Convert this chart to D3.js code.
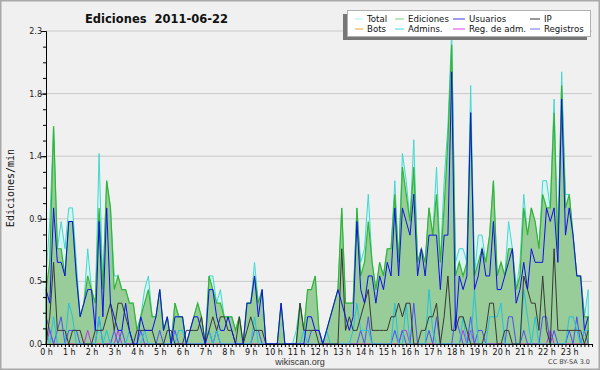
<!DOCTYPE html>
<html>
<head>
<meta charset="utf-8">
<script src="https://cdn.jsdelivr.net/npm/d3@7"></script>
<style>
  body { margin: 0; background: #f0f0f0; }
  text { font-family: "DejaVu Sans", sans-serif; }
</style>
</head>
<body>
<div id="chart"></div>
<script>
// 10-minute slots, values in edits/min
const hourLabels = ["0 h","1 h","2 h","3 h","4 h","5 h","6 h","7 h","8 h","9 h","10 h","11 h",
  "12 h","13 h","14 h","15 h","16 h","17 h","18 h","19 h","20 h","21 h","22 h","23 h"];
const yTicks = [0, 0.46, 0.92, 1.38, 1.84, 2.3];

const total = [
  0.5,0.9,1.6,0.7,0.9,0.7, 1.0,1.0,0.6,0.2,0.3,0.7, 0.4,0.3,1.4,0.4,1.2,1.0,
  0.5,0.5,0.4,0.4,0.3,0.3, 0.1,0.2,0.4,0.5,0.2,0.2, 0.4,0.1,0.2,0.0,0.3,0.2,
  0.2,0.0,0.1,0.2,0.3,0.2, 0.0,0.5,0.5,0.3,0.4,0.2, 0.2,0.2,0.1,0.2,0.0,0.3,
  0.3,0.6,0.3,0.4,0.0,0.0, 0.0,0.0,0.3,0.0,0.0,0.0, 0.1,0.3,0.1,0.4,0.4,0.5,
  0.1,0.0,0.1,0.2,0.3,0.4, 1.0,0.3,0.3,0.3,1.0,0.6, 0.7,1.1,0.6,0.4,0.6,0.5,
  0.7,0.7,1.2,0.6,1.4,1.2, 0.9,1.5,0.6,0.7,0.6,1.0, 0.8,1.3,0.6,1.2,1.6,2.3,
  0.6,0.7,0.7,0.6,1.9,0.5, 0.8,0.8,0.6,0.8,1.2,0.5, 0.6,0.5,0.9,0.7,0.4,0.6,
  1.1,0.8,1.0,0.9,0.7,1.2, 1.2,1.0,1.8,0.7,2.0,1.1, 1.1,0.8,0.5,0.5,0.2,0.4
];
const ediciones = [
  0.4,0.6,1.6,0.7,0.7,0.5, 0.9,0.9,0.5,0.2,0.3,0.5, 0.4,0.3,1.0,0.4,1.2,1.0,
  0.4,0.5,0.4,0.4,0.3,0.3, 0.1,0.2,0.3,0.4,0.2,0.2, 0.4,0.1,0.2,0.0,0.3,0.2,
  0.2,0.0,0.1,0.2,0.3,0.2, 0.0,0.5,0.4,0.3,0.3,0.2, 0.2,0.2,0.1,0.2,0.0,0.3,
  0.3,0.5,0.3,0.4,0.0,0.0, 0.0,0.0,0.3,0.0,0.0,0.0, 0.0,0.3,0.1,0.4,0.4,0.5,
  0.1,0.0,0.1,0.2,0.3,0.4, 1.0,0.3,0.3,0.3,1.0,0.5, 0.6,0.9,0.6,0.4,0.6,0.5,
  0.7,0.7,1.1,0.6,1.3,1.1, 0.9,1.3,0.6,0.7,0.6,1.0, 0.8,1.1,0.6,1.0,1.5,2.2,
  0.5,0.6,0.5,0.6,1.7,0.5, 0.6,0.7,0.6,0.8,1.2,0.5, 0.6,0.5,0.7,0.7,0.4,0.5,
  1.0,0.8,1.0,0.9,0.7,1.1, 1.0,1.0,1.7,0.7,1.9,1.0, 1.1,0.8,0.5,0.5,0.2,0.2
];
const usuarios = [
  0.4,0.3,1.0,0.6,0.6,0.5, 0.9,0.9,0.5,0.2,0.3,0.4, 0.4,0.1,0.9,0.2,1.0,0.3,
  0.2,0.1,0.1,0.3,0.1,0.0, 0.0,0.2,0.1,0.1,0.1,0.2, 0.4,0.1,0.2,0.0,0.2,0.2,
  0.2,0.0,0.1,0.2,0.2,0.1, 0.0,0.4,0.4,0.2,0.1,0.1, 0.2,0.1,0.0,0.0,0.0,0.3,
  0.3,0.5,0.2,0.4,0.0,0.0, 0.0,0.0,0.3,0.0,0.0,0.0, 0.0,0.0,0.0,0.2,0.2,0.1,
  0.1,0.0,0.1,0.2,0.3,0.4, 0.3,0.2,0.1,0.2,0.9,0.4, 0.3,0.5,0.5,0.3,0.5,0.4,
  0.6,0.5,1.0,0.5,1.0,0.9, 0.8,1.1,0.5,0.7,0.5,0.8, 0.8,0.8,0.4,0.8,0.8,2.0,
  0.1,0.5,0.4,0.5,1.7,0.4, 0.5,0.7,0.5,0.5,0.9,0.4, 0.4,0.5,0.6,0.7,0.3,0.4,
  0.6,0.4,0.7,0.6,0.6,0.6, 1.0,0.9,1.0,0.6,1.8,0.8, 1.0,0.8,0.5,0.5,0.1,0.2
];
const ip = [
  0.0,0.2,0.6,0.1,0.1,0.1, 0.0,0.1,0.1,0.1,0.0,0.0, 0.0,0.1,0.1,0.1,0.2,0.3,
  0.1,0.3,0.3,0.2,0.1,0.0, 0.1,0.1,0.1,0.1,0.1,0.0, 0.0,0.0,0.1,0.1,0.0,0.0,
  0.0,0.1,0.1,0.1,0.1,0.2, 0.0,0.1,0.2,0.1,0.2,0.2, 0.1,0.1,0.0,0.2,0.0,0.1,
  0.2,0.1,0.1,0.1,0.0,0.0, 0.0,0.0,0.0,0.0,0.0,0.0, 0.0,0.3,0.1,0.1,0.1,0.1,
  0.0,0.0,0.0,0.0,0.0,0.0, 0.7,0.1,0.2,0.1,0.1,0.2, 0.3,0.4,0.1,0.1,0.1,0.1,
  0.1,0.2,0.2,0.3,0.2,0.3, 0.3,0.0,0.0,0.1,0.1,0.2, 0.2,0.3,0.0,0.2,0.5,0.1,
  0.1,0.2,0.2,0.1,0.0,0.0, 0.0,0.0,0.1,0.3,0.3,0.0, 0.0,0.1,0.1,0.0,0.0,0.0,
  0.5,0.4,0.3,0.3,0.1,0.5, 0.1,0.0,0.7,0.1,0.1,0.1, 0.1,0.1,0.1,0.1,0.0,0.1
];
const bots = [
  0,0,0,0,0,0, 0,0,0,0,0,0, 0,0,0,0,0,0, 0,0,0,0,0,0, 0,0,0,0,0,0, 0,0,0,0,0,0,
  0,0,0,0,0,0, 0,0,0,0,0,0, 0,0,0,0,0,0, 0,0,0,0,0,0, 0,0,0,0,0,0, 0,0,0,0,0,0,
  0,0,0,0,0,0, 0,0,0,0,0,0, 0,0,0,0,0,0, 0,0,0,0,0,0, 0,0,0,0,0,0, 0,0,0,0,0,0,
  0,0,0,0,0,0, 0,0,0,0,0,0, 0,0,0,0,0,0, 0,0,0,0,0,0, 0,0,0,0,0,0, 0,0,0,0,0,0
];
const admins = [
  0.1,0.0,0.2,0.0,0.0,0.0, 0.3,0.2,0.0,0.0,0.0,0.0, 0.0,0.0,0.2,0.0,0.1,0.0,
  0.0,0.0,0.0,0.0,0.1,0.0, 0.0,0.0,0.1,0.0,0.0,0.0, 0.0,0.0,0.0,0.0,0.0,0.1,
  0.1,0.0,0.0,0.0,0.0,0.0, 0.0,0.1,0.0,0.1,0.0,0.0, 0.0,0.0,0.0,0.0,0.0,0.0,
  0.0,0.2,0.0,0.0,0.0,0.0, 0.0,0.0,0.0,0.0,0.0,0.0, 0.0,0.0,0.1,0.0,0.0,0.0,
  0.0,0.0,0.1,0.0,0.0,0.0, 0.0,0.0,0.0,0.1,0.3,0.1, 0.1,0.1,0.0,0.0,0.0,0.0,
  0.0,0.0,0.3,0.0,0.0,0.3, 0.0,0.0,0.0,0.0,0.0,0.4, 0.1,0.0,0.0,0.0,0.0,0.0,
  0.0,0.0,0.2,0.0,0.0,0.4, 0.0,0.0,0.0,0.2,0.2,0.2, 0.3,0.0,0.0,0.0,0.0,0.0,
  0.4,0.2,0.0,0.2,0.0,0.0, 0.0,0.0,0.0,0.0,0.0,0.0, 0.2,0.2,0.1,0.0,0.1,0.1
];
const regAdm = [
  0.0,0.1,0.0,0.0,0.0,0.0, 0.0,0.0,0.0,0.0,0.0,0.1, 0.0,0.0,0.0,0.0,0.0,0.0,
  0.0,0.1,0.0,0.0,0.0,0.0, 0.0,0.0,0.0,0.0,0.0,0.0, 0.0,0.0,0.0,0.0,0.0,0.0,
  0.0,0.0,0.0,0.0,0.0,0.0, 0.0,0.0,0.0,0.0,0.0,0.0, 0.0,0.0,0.0,0.0,0.0,0.0,
  0.0,0.0,0.0,0.0,0.0,0.0, 0.0,0.0,0.0,0.0,0.0,0.0, 0.0,0.0,0.0,0.0,0.0,0.0,
  0.0,0.0,0.0,0.0,0.0,0.0, 0.0,0.0,0.0,0.0,0.0,0.0, 0.0,0.0,0.0,0.0,0.0,0.0,
  0.0,0.0,0.0,0.0,0.1,0.1, 0.0,0.0,0.0,0.0,0.0,0.0, 0.0,0.0,0.0,0.0,0.0,0.0,
  0.0,0.0,0.1,0.0,0.1,0.0, 0.0,0.0,0.0,0.0,0.0,0.0, 0.0,0.0,0.0,0.0,0.0,0.0,
  0.0,0.0,0.0,0.0,0.0,0.0, 0.0,0.1,0.0,0.0,0.0,0.0, 0.0,0.0,0.0,0.0,0.0,0.0
];
const registros = [
  0.2,0.1,0.0,0.1,0.2,0.0, 0.1,0.1,0.1,0.0,0.0,0.0, 0.0,0.0,0.2,0.0,0.0,0.0,
  0.1,0.0,0.1,0.0,0.0,0.0, 0.0,0.1,0.0,0.0,0.0,0.0, 0.1,0.0,0.0,0.0,0.1,0.0,
  0.0,0.0,0.0,0.0,0.0,0.0, 0.0,0.1,0.0,0.1,0.0,0.0, 0.0,0.0,0.0,0.0,0.0,0.0,
  0.0,0.1,0.1,0.0,0.0,0.0, 0.0,0.0,0.0,0.0,0.0,0.0, 0.0,0.0,0.0,0.0,0.1,0.1,
  0.1,0.0,0.0,0.0,0.0,0.0, 0.0,0.0,0.0,0.0,0.0,0.1, 0.0,0.2,0.0,0.0,0.0,0.0,
  0.0,0.0,0.1,0.0,0.1,0.0, 0.0,0.3,0.0,0.0,0.0,0.1, 0.0,0.2,0.0,0.0,0.0,0.0,
  0.2,0.1,0.0,0.0,0.2,0.0, 0.1,0.1,0.0,0.0,0.0,0.0, 0.0,0.0,0.2,0.2,0.0,0.0,
  0.1,0.0,0.0,0.0,0.0,0.2, 0.2,0.0,0.1,0.0,0.0,0.0, 0.1,0.0,0.2,0.0,0.1,0.0
];

const legendItems = [
  {name: "Total", color: "#a8ecea"},
  {name: "Ediciones", color: "#80d080"},
  {name: "Usuarios", color: "#3a3ae8"},
  {name: "IP", color: "#333333"},
  {name: "Bots", color: "#f0a030"},
  {name: "Admins.", color: "#40d4e4"},
  {name: "Reg. de adm.", color: "#e040e8"},
  {name: "Registros", color: "#7070ff"}
];

const width = 600, height = 370;
const svg = d3.select("#chart").append("svg")
  .attr("width", width)
  .attr("height", height);

svg.append("rect")
  .attr("x", 0.5).attr("y", 0.5)
  .attr("width", width - 1).attr("height", height - 1)
  .attr("fill", "#f0f0f0")
  .attr("stroke", "#a8a8a8")
  .attr("stroke-width", 2);

const x = d3.scaleLinear().domain([0, 144]).range([46, 592]);
const y = d3.scaleLinear().domain([0, 2.3]).range([344, 31]);

// grid
svg.append("g").selectAll("line")
  .data(yTicks.slice(1))
  .enter().append("line")
  .attr("x1", x(0)).attr("x2", x(144))
  .attr("y1", d => y(d)).attr("y2", d => y(d))
  .attr("stroke", "#c8c8c8");

const areaOf = arr => d3.area()
  .x((d, i) => x(i))
  .y0(y(0))
  .y1(d => y(d))(arr);
const lineOf = arr => d3.line()
  .x((d, i) => x(i))
  .y(d => y(d))(arr);

svg.append("path").attr("d", areaOf(total))
  .attr("fill", "#d6f4f1").attr("stroke", "#3fd8cf").attr("stroke-width", 1);
svg.append("path").attr("d", areaOf(ediciones))
  .attr("fill", "#98cc98").attr("stroke", "#33b533").attr("stroke-width", 1.2);

const lines = [
  [bots, "#f0a030"],
  [regAdm, "#c830e0"],
  [registros, "#5050f0"],
  [admins, "#22c4dc"],
  [ip, "#383838"],
  [usuarios, "#1010e6"]
];
lines.forEach(([arr, col]) => {
  svg.append("path").attr("d", lineOf(arr))
    .attr("fill", "none").attr("stroke", col).attr("stroke-width", 1);
});

// axes
const yAxisMinor = d3.axisLeft(y)
  .tickValues(d3.range(0, 2.31, 0.115))
  .tickSize(3).tickSizeOuter(0).tickFormat("");
svg.append("g").attr("transform", `translate(${x(0)},0)`).call(yAxisMinor);

const yAxis = d3.axisLeft(y)
  .tickValues(yTicks)
  .tickSize(5).tickSizeOuter(0)
  .tickFormat(d3.format(".1f"));
const gy = svg.append("g").attr("transform", `translate(${x(0)},0)`).call(yAxis);
gy.selectAll("text").attr("font-size", 8).attr("font-family", "DejaVu Sans").attr("fill", "#222").attr("x", -4);

const xAxisMinor = d3.axisBottom(x)
  .tickValues(d3.range(0, 145))
  .tickSize(3).tickSizeOuter(0).tickFormat("");
svg.append("g").attr("transform", `translate(0,${y(0)})`).call(xAxisMinor);

const xAxis = d3.axisBottom(x)
  .tickValues(hourLabels.map((d, i) => i * 6))
  .tickSize(3).tickSizeOuter(0)
  .tickFormat((d, i) => hourLabels[i]);
const gx = svg.append("g").attr("transform", `translate(0,${y(0)})`).call(xAxis);
gx.selectAll("text").attr("font-size", 8).attr("font-family", "DejaVu Sans").attr("fill", "#111").attr("dy", "0.6em");
svg.selectAll(".domain").attr("stroke", "#000");

// title
svg.append("text")
  .attr("x", 85).attr("y", 23)
  .attr("font-size", 11.5).attr("font-weight", "bold")
  .attr("fill", "#111")
  .style("white-space", "pre")
  .text("Ediciones  2011-06-22");

// y label
svg.append("text")
  .attr("transform", "translate(14,188) rotate(-90)")
  .attr("text-anchor", "middle")
  .style("font-family", "'DejaVu Sans Mono', monospace")
  .attr("font-size", 10)
  .attr("fill", "#111")
  .text("Ediciones/min");

// footer
svg.append("text").attr("x", 300).attr("y", 365)
  .attr("text-anchor", "middle").attr("font-size", 9).attr("fill", "#333")
  .style("font-family", "'Liberation Sans', sans-serif")
  .text("wikiscan.org");
svg.append("text").attr("x", 590).attr("y", 364)
  .attr("text-anchor", "end").attr("font-size", 6.5).attr("fill", "#444")
  .text("CC BY-SA 3.0");

// legend
const legend = svg.append("g");
legend.append("rect").attr("x", 343).attr("y", 14).attr("width", 244).attr("height", 26).attr("fill", "#777");
legend.append("rect").attr("x", 347.5).attr("y", 10.5).attr("width", 243).attr("height", 26)
  .attr("fill", "#fff").attr("stroke", "#b0b0b0");
const colX = [355, 395, 453, 530];
const colW = [8, 9, 12, 10];
legendItems.forEach((d, i) => {
  const col = i % 4, row = Math.floor(i / 4);
  const g = legend.append("g").attr("transform", `translate(${colX[col]},${19 + row * 10})`);
  g.append("line").attr("x1", 0).attr("x2", colW[col]).attr("y1", 0).attr("y2", 0)
    .attr("stroke", d.color).attr("stroke-width", 1);
  g.append("text").attr("x", colW[col] + 4).attr("y", 3.3)
    .attr("font-size", 8.6).attr("fill", "#111").text(d.name);
});
</script>
</body>
</html>
